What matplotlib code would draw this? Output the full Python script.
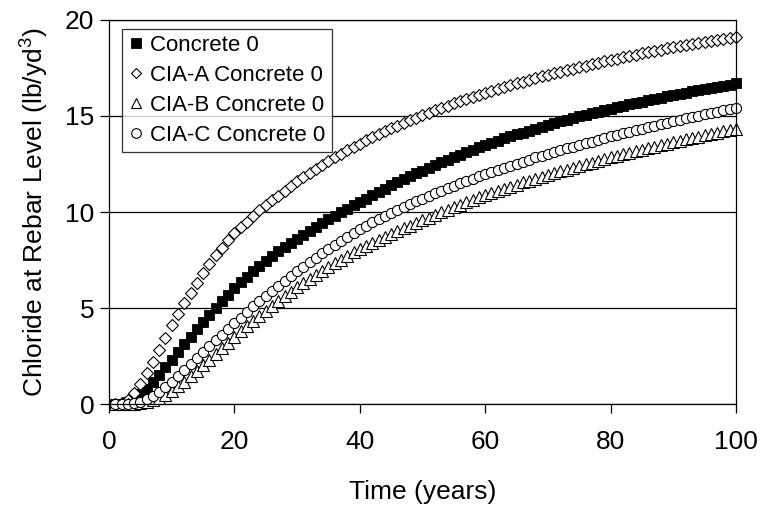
import numpy as np
import matplotlib
matplotlib.use("Agg")
import matplotlib.pyplot as plt

plt.rcParams['font.family'] = ['Liberation Sans', 'DejaVu Sans']
plt.rcParams['mathtext.fontset'] = 'custom'
plt.rcParams['mathtext.rm'] = 'Liberation Sans'

# time in years
years = list(range(1, 101))

# chloride at rebar level (lb/yd3)
concrete_0 = [
    0.0, 0.01, 0.08, 0.25, 0.5, 0.8, 1.15, 1.52, 1.91, 2.3,
    2.7, 3.1, 3.5, 3.9, 4.28, 4.65, 5.01, 5.36, 5.7, 6.03,
    6.34, 6.64, 6.93, 7.2, 7.46, 7.71, 7.95, 8.18, 8.4, 8.61,
    8.82, 9.03, 9.23, 9.43, 9.62, 9.81, 9.99, 10.17, 10.35, 10.52,
    10.7, 10.88, 11.05, 11.22, 11.39, 11.55, 11.71, 11.86, 12.01, 12.16,
    12.3, 12.44, 12.58, 12.72, 12.86, 12.99, 13.12, 13.25, 13.38, 13.5,
    13.61, 13.72, 13.83, 13.94, 14.04, 14.14, 14.24, 14.34, 14.44, 14.54,
    14.63, 14.72, 14.81, 14.9, 14.99, 15.07, 15.15, 15.23, 15.31, 15.39,
    15.47, 15.54, 15.61, 15.68, 15.75, 15.82, 15.89, 15.96, 16.03, 16.1,
    16.16, 16.22, 16.28, 16.34, 16.4, 16.46, 16.52, 16.58, 16.64, 16.7,
]
cia_a = [
    0.0, 0.03, 0.2, 0.55, 1.05, 1.6, 2.2, 2.8, 3.45, 4.1,
    4.7, 5.25, 5.8, 6.3, 6.8, 7.3, 7.75, 8.15, 8.55, 8.9,
    9.2, 9.5, 9.8, 10.1, 10.35, 10.6, 10.85, 11.1, 11.35, 11.6,
    11.82, 12.04, 12.25, 12.45, 12.65, 12.84, 13.03, 13.21, 13.39, 13.56,
    13.73, 13.89, 14.05, 14.2, 14.35, 14.5, 14.64, 14.78, 14.91, 15.04,
    15.17, 15.3, 15.42, 15.54, 15.66, 15.77, 15.88, 15.99, 16.1, 16.2,
    16.3, 16.4, 16.5, 16.6, 16.7, 16.79, 16.88, 16.97, 17.06, 17.15,
    17.23, 17.31, 17.39, 17.47, 17.55, 17.63, 17.71, 17.78, 17.85, 17.92,
    17.99, 18.06, 18.13, 18.2, 18.27, 18.34, 18.4, 18.46, 18.52, 18.58,
    18.64, 18.7, 18.76, 18.82, 18.88, 18.93, 18.98, 19.03, 19.08, 19.13,
]
cia_b = [
    0.0, 0.0, 0.0, 0.01, 0.04, 0.1, 0.19, 0.32, 0.49, 0.69,
    0.92, 1.17, 1.44, 1.72, 2.01, 2.3, 2.6, 2.9, 3.2, 3.5,
    3.78, 4.06, 4.33, 4.6, 4.86, 5.11, 5.36, 5.6, 5.84, 6.07,
    6.29, 6.51, 6.72, 6.93, 7.13, 7.33, 7.52, 7.71, 7.9, 8.08,
    8.24, 8.4, 8.56, 8.71, 8.86, 9.01, 9.15, 9.29, 9.43, 9.57,
    9.71, 9.85, 9.99, 10.12, 10.25, 10.38, 10.51, 10.64, 10.76, 10.88,
    10.99, 11.1, 11.21, 11.32, 11.43, 11.54, 11.64, 11.74, 11.84, 11.94,
    12.03, 12.12, 12.21, 12.3, 12.39, 12.48, 12.57, 12.66, 12.75, 12.84,
    12.92, 13.0, 13.08, 13.16, 13.24, 13.32, 13.4, 13.48, 13.56, 13.64,
    13.71, 13.78, 13.85, 13.92, 13.99, 14.06, 14.13, 14.2, 14.27, 14.34,
]
cia_c = [
    0.0, 0.0, 0.01, 0.05, 0.12, 0.25, 0.43, 0.65, 0.9, 1.17,
    1.46, 1.76, 2.07, 2.38, 2.69, 3.0, 3.31, 3.61, 3.91, 4.2,
    4.5, 4.79, 5.08, 5.36, 5.63, 5.9, 6.16, 6.42, 6.67, 6.92,
    7.16, 7.4, 7.63, 7.86, 8.08, 8.3, 8.51, 8.72, 8.92, 9.12,
    9.29, 9.46, 9.63, 9.79, 9.95, 10.11, 10.26, 10.41, 10.56, 10.7,
    10.84, 10.98, 11.11, 11.24, 11.37, 11.49, 11.61, 11.73, 11.85, 11.96,
    12.07, 12.18, 12.29, 12.4, 12.51, 12.62, 12.73, 12.84, 12.94, 13.04,
    13.13, 13.22, 13.31, 13.4, 13.49, 13.58, 13.67, 13.76, 13.85, 13.94,
    14.02, 14.1, 14.18, 14.26, 14.34, 14.42, 14.5, 14.58, 14.66, 14.74,
    14.81, 14.88, 14.95, 15.02, 15.09, 15.16, 15.23, 15.3, 15.37, 15.44,
]

labels = ["Concrete 0", "CIA-A Concrete 0", "CIA-B Concrete 0", "CIA-C Concrete 0"]
x_ticks = [0, 20, 40, 60, 80, 100]
y_ticks = [0, 5, 10, 15, 20]

fig = plt.figure(figsize=(7.65, 5.13), dpi=100)
ax = fig.add_axes([109 / 765, 109 / 513, 627 / 765, 384 / 513])

style = dict(ls='none', mec='black', clip_on=False)
ax.plot(years, concrete_0, marker='s', ms=7.4, mfc='black', mew=0.6, label=labels[0], **style)
ax.plot(years, cia_a, marker='D', ms=5.8, mfc='white', mew=0.8, label=labels[1], **style)
ax.plot(years, cia_b, marker='^', ms=8.0, mfc='white', mew=0.8, label=labels[2], **style)
ax.plot(years, cia_c, marker='o', ms=7.3, mfc='white', mew=0.8, label=labels[3], **style)

ax.set_xlim(0, 100)
ax.set_ylim(0, 20)
ax.set_xticks(x_ticks)
ax.set_yticks(y_ticks)
ax.yaxis.grid(True, color='black', lw=0.9)
ax.set_axisbelow(True)
for s in ax.spines.values():
    s.set_color('black')
    s.set_linewidth(0.9)
ax.tick_params(direction='out', length=6.5, width=0.9, labelsize=19, color='black')
ax.tick_params(axis='x', pad=12)
ax.tick_params(axis='y', pad=4)

ax.set_xlabel("Time (years)", fontsize=19, labelpad=19)
ax.set_ylabel(r"Chloride at Rebar Level (lb/yd$\mathregular{^3}$)", fontsize=19, labelpad=10)

leg = ax.legend(loc='upper left', bbox_to_anchor=(0.0207, 0.9766), borderaxespad=0,
                fontsize=16, frameon=True, fancybox=False, edgecolor='black',
                handlelength=0.7, handletextpad=0.3, labelspacing=0.4,
                borderpad=0.28, markerscale=1.0)
leg.get_frame().set_linewidth(0.9)
for h in leg.legend_handles:
    h.set_markersize(h.get_markersize() * 0.95)

fig.savefig("out.png", dpi=100)
